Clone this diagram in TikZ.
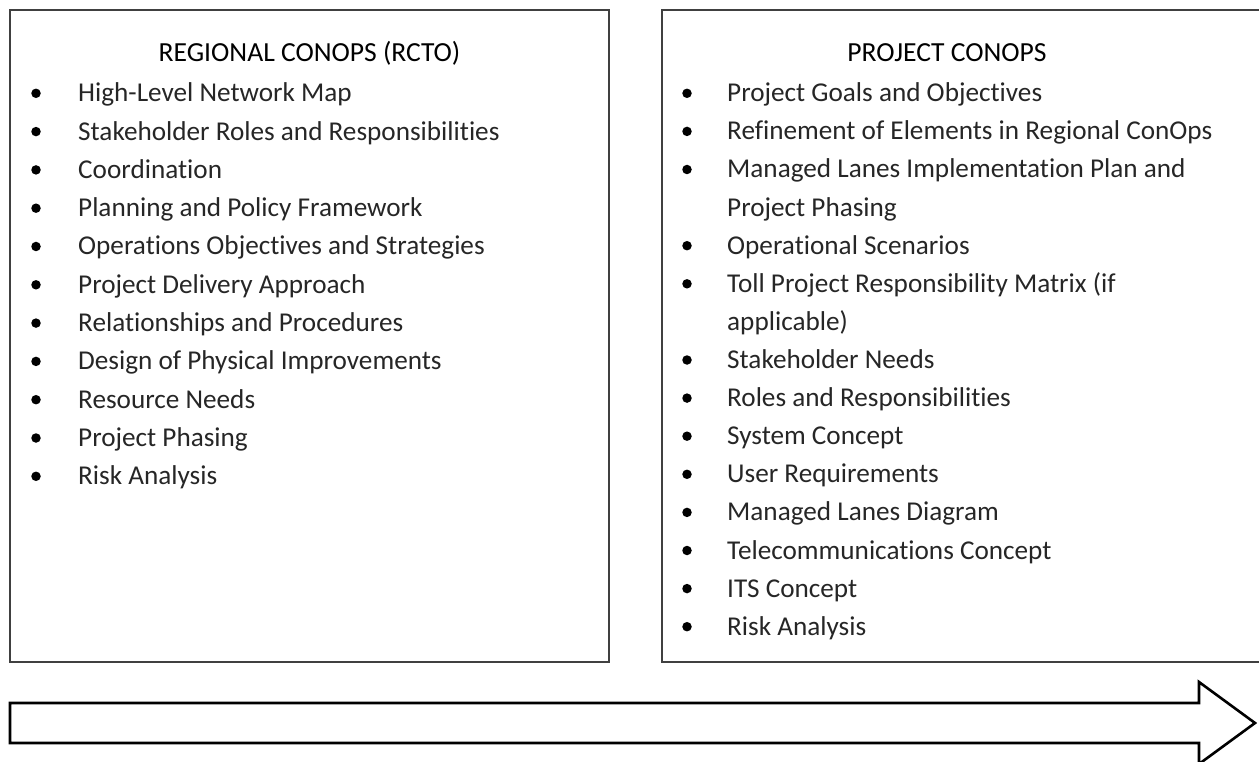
\documentclass[tikz,border=0pt]{standalone}
\usepackage{fontspec}
\setmainfont{Carlito}[RawFeature={-liga}]
\tikzset{
  boxline/.style={draw=black!75, line width=1.1},
  bul/.style={circle, fill=black, draw=none, inner sep=0pt, minimum size=9.5pt},
  itemtext/.style={anchor=base west, inner sep=0pt, text=black!85, font=\fontsize{27.2}{30}\selectfont},
  titletext/.style={anchor=base, inner sep=0pt, text=black, font=\fontsize{27.6}{30}\selectfont},
  bigarrow/.style={draw=black, line width=2.6, line join=miter, fill=white}
}
\begin{document}
\begin{tikzpicture}[x=1pt, y=-1pt]
\useasboundingbox (0,0) rectangle (1259,762);
\clip (0,0) rectangle (1259,762);
% left box
\draw[boxline] (10,10) rectangle (609,662);
% right box (extends past the right edge)
\draw[boxline] (1270,10) -- (662,10) -- (662,662) -- (1270,662);
% titles
\node[titletext] (ltitle) at (309.5,61.5) {REGIONAL CONOPS (RCTO)};
\node[titletext] (rtitle) at (947,61.5) {PROJECT CONOPS};
% left list
\foreach \t [count=\i] in {High-Level Network Map, Stakeholder Roles and Responsibilities, Coordination, Planning and Policy Framework, Operations Objectives and Strategies, Project Delivery Approach, Relationships and Procedures, Design of Physical Improvements, Resource Needs, Project Phasing, Risk Analysis}{
  \node[bul] (lb\i) at (36,{93.3+38.3*(\i-1)}) {};
  \node[itemtext] (lt\i) at (78,{101.8+38.3*(\i-1)}) {\t};
}
% right list (line index, bullet flag)
\foreach \t/\n/\b [count=\i] in {Project Goals and Objectives/0/1, Refinement of Elements in Regional ConOps/1/1, Managed Lanes Implementation Plan and/2/1, Project Phasing/3/0, Operational Scenarios/4/1, Toll Project Responsibility Matrix (if/5/1, applicable)/6/0, Stakeholder Needs/7/1, Roles and Responsibilities/8/1, System Concept/9/1, User Requirements/10/1, Managed Lanes Diagram/11/1, Telecommunications Concept/12/1, ITS Concept/13/1, Risk Analysis/14/1}{
  \ifnum\b=1
    \node[bul] (rb\i) at (687,{93.3+38.1*\n}) {};
  \fi
  \node[itemtext] (rt\i) at (727,{101.8+38.1*\n}) {\t};
}
% big arrow
\draw[bigarrow] (10,703) -- (1199,703) -- (1199,682) -- (1255,723) -- (1199,764) -- (1199,743) -- (10,743) -- cycle;
\end{tikzpicture}
\end{document}
